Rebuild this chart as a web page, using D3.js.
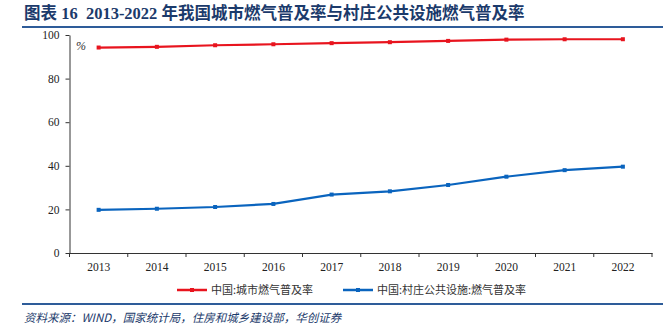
<!DOCTYPE html>
<html><head><meta charset="utf-8">
<script src="https://cdn.jsdelivr.net/npm/d3@7"></script>
<style>body{margin:0;background:#fff}svg{display:block}</style>
</head><body><svg id="c" width="663" height="332"></svg>
<script>
const years = ["2013","2014","2015","2016","2017","2018","2019","2020","2021","2022"];
const urbanGas = [94.25,94.57,95.30,95.75,96.26,96.70,97.29,97.87,98.04,98.06];
const villageGas = [19.8,20.3,21.1,22.5,26.8,28.3,31.2,35.0,38.0,39.6];
const yTicks = [0,20,40,60,80,100];
const seriesNames = ["中国:城市燃气普及率","中国:村庄公共设施:燃气普及率"];
const titleText = "图表 16\u00a0\u00a02013-2022 年我国城市燃气普及率与村庄公共设施燃气普及率";
const sourceText = "资料来源：WIND，国家统计局，住房和城乡建设部，华创证券";
const colors = ["#E8141E","#0A64BE"];

const svg = d3.select("#c");
const serif = "'Liberation Serif','Times New Roman','Noto Sans CJK SC',serif";
const cjk = "'Noto Sans CJK SC','Liberation Serif',sans-serif";

// title
svg.append("text").attr("x",24).attr("y",19).attr("font-family",serif)
  .attr("font-size",16.5).attr("font-weight","bold").attr("fill","#1B3A6B").text(titleText);
svg.append("line").attr("x1",22).attr("x2",663).attr("y1",27).attr("y2",27)
  .attr("stroke","#2E5C99").attr("stroke-width",2);

const x = d3.scaleBand().domain(years).range([69.5,652]);
const y = d3.scaleLinear().domain([0,100]).range([253,35]);

const gx = svg.append("g").attr("transform","translate(0,253)")
  .call(d3.axisBottom(x).tickSize(0).tickPadding(10));
gx.select(".domain").attr("stroke","#333");
gx.selectAll("text").attr("font-family",serif).attr("font-size",11.5).attr("fill","#222");
// band edge ticks
const edges = years.map(d=>x(d)).concat([x.range()[1]]);
svg.append("g").selectAll("line").data(edges).join("line")
  .attr("x1",d=>d).attr("x2",d=>d).attr("y1",253).attr("y2",257).attr("stroke","#333");

const gy = svg.append("g").attr("transform","translate(69.5,0)")
  .call(d3.axisLeft(y).tickValues(yTicks).tickSize(4).tickSizeOuter(0).tickPadding(6));
gy.select(".domain").attr("stroke","#333");
gy.selectAll(".tick line").attr("stroke","#333");
gy.selectAll("text").attr("font-family",serif).attr("font-size",11.5).attr("fill","#222");

svg.append("text").attr("x",76).attr("y",50).attr("font-family",serif).attr("font-size",12)
  .attr("font-style","italic").attr("fill","#333").text("%");

const line = d3.line().x((d,i)=>x(years[i])+x.bandwidth()/2).y(d=>y(d));
[urbanGas,villageGas].forEach((s,k)=>{
  svg.append("path").datum(s).attr("d",line).attr("fill","none")
    .attr("stroke",colors[k]).attr("stroke-width",2.2);
  svg.append("g").selectAll("rect").data(s).join("rect")
    .attr("x",(d,i)=>x(years[i])+x.bandwidth()/2-2).attr("y",d=>y(d)-2)
    .attr("width",4).attr("height",4).attr("fill",colors[k]);
});

// legend
const leg = [{x:177,tx:211},{x:343,tx:377}];
leg.forEach((l,k)=>{
  svg.append("line").attr("x1",l.x).attr("x2",l.x+30).attr("y1",290).attr("y2",290)
    .attr("stroke",colors[k]).attr("stroke-width",2.5);
  svg.append("rect").attr("x",l.x+13).attr("y",288).attr("width",4).attr("height",4).attr("fill",colors[k]);
  svg.append("text").attr("x",l.tx).attr("y",294).attr("font-family",cjk).attr("font-size",11)
    .attr("fill","#333").text(seriesNames[k]);
});

svg.append("line").attr("x1",22).attr("x2",663).attr("y1",304).attr("y2",304)
  .attr("stroke","#2E5C99").attr("stroke-width",2);
svg.append("text").attr("x",24).attr("y",322).attr("font-family",cjk).attr("font-size",11.5)
  .attr("font-style","italic").attr("fill","#1B3A6B").text(sourceText);
</script></body></html>
